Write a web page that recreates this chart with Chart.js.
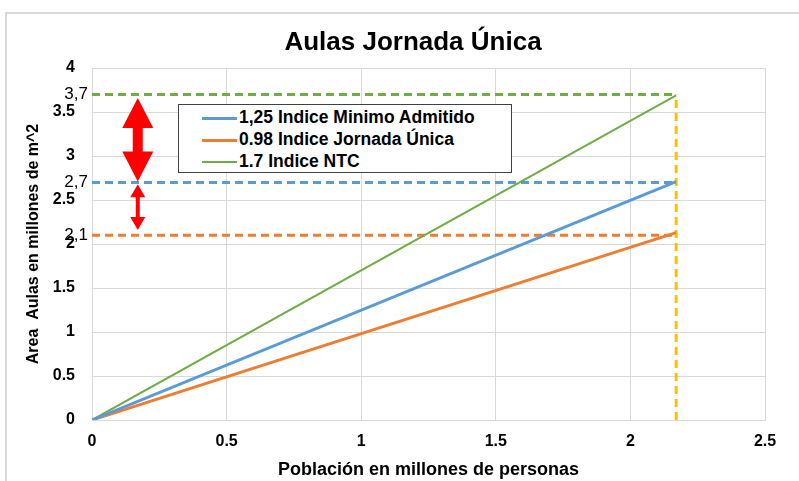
<!DOCTYPE html>
<html>
<head>
<meta charset="utf-8">
<script src="https://cdn.jsdelivr.net/npm/chart.js@4.4.1/dist/chart.umd.min.js"></script>
<style>
  html, body { margin: 0; padding: 0; background: #fff; }
  #wrap { position: relative; width: 799px; height: 481px; overflow: hidden; font-family: "Liberation Sans", Arial, sans-serif; }
  #frame { position: absolute; left: 5px; top: 12px; width: 900px; height: 600px; border-top: 2px solid #d9d9d9; border-left: 2px solid #d9d9d9; }
  #titulo { position: absolute; left: 213px; width: 400px; top: 26px; text-align: center; font-weight: bold; font-size: 26px; color: #000; }
  #leyenda { position: absolute; left: 178px; top: 104px; width: 334px; height: 69px; border: 1px solid #404040; background: #fff; box-sizing: border-box; }
  .item { position: absolute; left: 23px; height: 22px; line-height: 22px; font-weight: bold; font-size: 17.5px; color: #000; white-space: nowrap; }
  .item span.muestra { display: inline-block; width: 35px; vertical-align: middle; margin-right: 2px; }
  canvas { position: absolute; left: 0; top: 0; }
</style>
</head>
<body>
<div id="wrap">
  <div id="frame"></div>
  <canvas id="grafico" width="799" height="481"></canvas>
  <div id="titulo">Aulas Jornada Única</div>
  <div id="leyenda"></div>
</div>
<script>
// Datos
const poblacion = [0, 2.17];
const indiceMinimo = [0, 2.71];
const indiceJornada = [0, 2.13];
const indiceNTC = [0, 3.69];

const nombres = ['1,25 Indice Minimo Admitido', '0.98 Indice Jornada Única', '1.7  Indice NTC'];
const colores = ['#5B9BD5', '#ED7D31', '#70AD47'];

// lineas de referencia punteadas
const refValores = [3.7, 2.7, 2.1];
const refEtiquetas = ['3,7', '2,7', '2,1'];
const refColores = ['#70AD47', '#5B9BD5', '#ED7D31'];
const xFinal = 2.17;

// flechas rojas: x y tramos [desde, hasta]
const flechaX = 0.17;
const flechas = [[3.66, 2.71], [2.68, 2.16]];

const puntos = (ys) => ys.map((y, i) => ({ x: poblacion[i], y }));

const datasets = [
  { label: nombres[0], data: puntos(indiceMinimo), borderColor: colores[0], borderWidth: 3 },
  { label: nombres[1], data: puntos(indiceJornada), borderColor: colores[1], borderWidth: 3 },
  { label: nombres[2], data: puntos(indiceNTC), borderColor: colores[2], borderWidth: 2 },
];

refValores.forEach((v, i) => {
  datasets.push({
    label: 'ref' + i,
    data: [{ x: 0, y: v }, { x: xFinal, y: v }],
    borderColor: refColores[i],
    borderWidth: 3,
    borderDash: [8, 5],
  });
});
datasets.push({
  label: 'vertical',
  data: [{ x: xFinal, y: 0 }, { x: xFinal, y: refValores[0] }],
  borderColor: '#FFC000',
  borderWidth: 3,
  borderDash: [8, 5],
});

// etiquetas extra del eje y + flechas
const extras = {
  id: 'extras',
  afterDatasetsDraw(chart) {
    const { ctx, scales: { x, y } } = chart;
    ctx.save();
    ctx.fillStyle = '#000';
    ctx.font = '17px "Liberation Sans", Arial, sans-serif';
    ctx.textAlign = 'right';
    ctx.textBaseline = 'middle';
    refValores.forEach((v, i) => {
      ctx.fillText(refEtiquetas[i], 88, y.getPixelForValue(v));
    });

    ctx.fillStyle = '#FF0000';
    const px = x.getPixelForValue(flechaX);
    const dibujar = (y1, y2, anchoCabeza, largoCabeza, anchoAsta) => {
      const a = y.getPixelForValue(y1), b = y.getPixelForValue(y2);
      ctx.beginPath();
      ctx.moveTo(px, a);
      ctx.lineTo(px + anchoCabeza / 2, a + largoCabeza);
      ctx.lineTo(px + anchoAsta / 2, a + largoCabeza);
      ctx.lineTo(px + anchoAsta / 2, b - largoCabeza);
      ctx.lineTo(px + anchoCabeza / 2, b - largoCabeza);
      ctx.lineTo(px, b);
      ctx.lineTo(px - anchoCabeza / 2, b - largoCabeza);
      ctx.lineTo(px - anchoAsta / 2, b - largoCabeza);
      ctx.lineTo(px - anchoAsta / 2, a + largoCabeza);
      ctx.lineTo(px - anchoCabeza / 2, a + largoCabeza);
      ctx.closePath();
      ctx.fill();
    };
    dibujar(flechas[0][0], flechas[0][1], 31, 30, 10);
    dibujar(flechas[1][0], flechas[1][1], 15, 13, 4);
    ctx.restore();
  }
};

const fmt = (v) => String(v);

const ctx = document.getElementById('grafico').getContext('2d');
new Chart(ctx, {
  type: 'line',
  data: { datasets },
  options: {
    responsive: false,
    animation: false,
    layout: { padding: { top: 68, right: 34, left: 0, bottom: 0 } },
    elements: { point: { radius: 0 }, line: { tension: 0 } },
    plugins: {
      legend: { display: false },
      tooltip: { enabled: false },
    },
    scales: {
      x: {
        type: 'linear',
        min: 0,
        max: 2.5,
        afterFit: (s) => { s.height = 61; },
        ticks: {
          stepSize: 0.5,
          color: '#000',
          padding: 12,
          callback: fmt,
          font: { family: '"Liberation Sans", Arial', size: 16, weight: 'bold' },
        },
        grid: { color: '#d9d9d9', drawTicks: false },
        border: { color: '#d9d9d9' },
        title: {
          display: true,
          text: 'Población en millones de personas',
          color: '#000',
          padding: { top: 2, bottom: 0 },
          font: { family: '"Liberation Sans", Arial', size: 18, weight: 'bold' },
        },
      },
      y: {
        min: 0,
        max: 4,
        afterFit: (s) => { s.width = 92; },
        ticks: {
          stepSize: 0.5,
          color: '#000',
          padding: 17,
          callback: fmt,
          font: { family: '"Liberation Sans", Arial', size: 16, weight: 'bold' },
        },
        grid: { color: '#d9d9d9', drawTicks: false },
        border: { color: '#d9d9d9' },
        title: {
          display: true,
          text: 'Area  Aulas en millones de m^2',
          color: '#000',
          padding: { top: 24, bottom: 0 },
          font: { family: '"Liberation Sans", Arial', size: 16, weight: 'bold' },
        },
      },
    },
  },
  plugins: [extras],
});

// leyenda
const leyenda = document.getElementById('leyenda');
nombres.forEach((n, i) => {
  const d = document.createElement('div');
  d.className = 'item';
  d.style.top = (1 + i * 22) + 'px';
  d.innerHTML = '<span class="muestra" style="border-top:' + (i === 2 ? 2 : 3) + 'px solid ' + colores[i] + '"></span>' + n;
  leyenda.appendChild(d);
});
</script>
</body>
</html>
